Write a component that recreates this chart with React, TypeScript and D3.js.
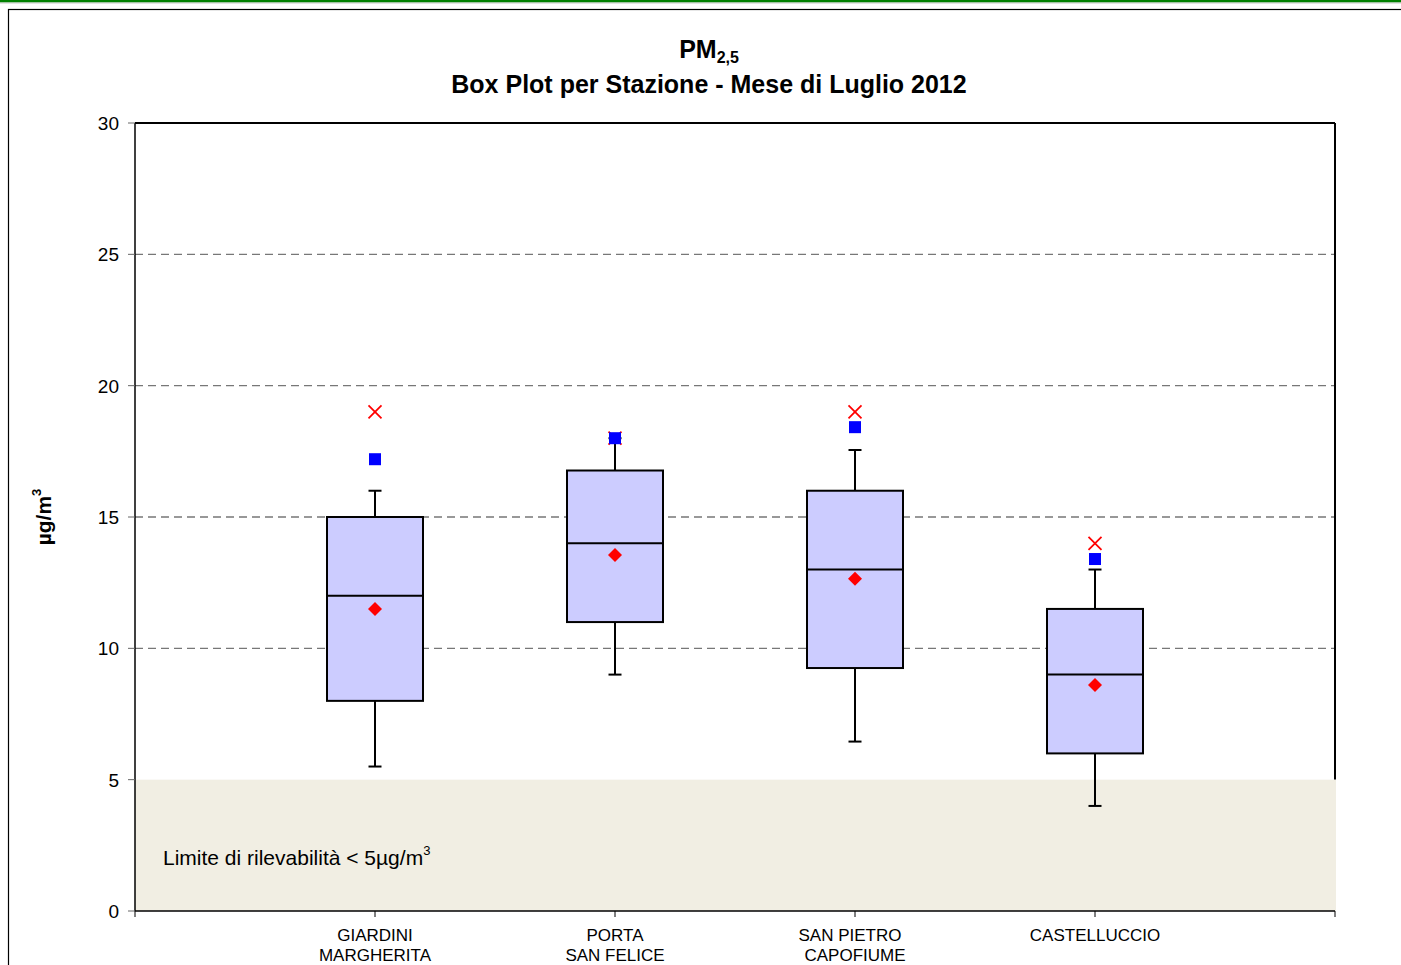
import React from "react";
import * as d3 from "d3";

const stations = [["GIARDINI", "MARGHERITA"], ["PORTA", "SAN FELICE"], ["SAN PIETRO", "CAPOFIUME"], ["CASTELLUCCIO"]];
const whiskerLow = [5.5, 9, 6.45, 4];
const q1 = [8, 11, 9.25, 6];
const median = [12, 14, 13, 9];
const q3 = [15, 16.77, 16, 11.5];
const whiskerHigh = [16, 18, 17.55, 13];
const mean = [11.5, 13.55, 12.65, 8.6];
const p95 = [17.2, 18, 18.42, 13.4];
const maxVal = [19, 18, 19, 14];
const yTicks = [0, 5, 10, 15, 20, 25, 30];
const gridValues = [10, 15, 20, 25];
const detectionLimit = 5;

const W = 1401, H = 965;
const L = 135, R = 1335, T = 123, B = 911;
const FONT = "'Liberation Sans', Arial, Helvetica, sans-serif";

export default function App() {
  const x = d3.scaleLinear().domain([0, 5]).range([L, R]);
  const y = d3.scaleLinear().domain([0, 30]).range([B, T]);
  const boxW = 96;
  const capW = 13;
  const sq = 12;
  const xs = 6.5;
  const dm = 7;
  const xTickVals = d3.range(0, 6);

  return (
    <svg width={W} height={H} style={{ position: "absolute", left: 0, top: 0, background: "#fff" }}>
      <rect x={0} y={0} width={W} height={2.5} fill="#008000" />
      <line x1={0} x2={W} y1={3} y2={3} stroke="#c8c8c8" strokeWidth={1} />
      <rect x={8.5} y={9.5} width={W + 20} height={H + 20} fill="none" stroke="#000" strokeWidth={1.2} />

      {/* title */}
      <text x={709} y={58} textAnchor="middle" fontFamily={FONT} fontWeight="bold" fontSize={25}>
        PM<tspan fontSize={16} dy={5}>2,5</tspan>
      </text>
      <text x={709} y={93} textAnchor="middle" fontFamily={FONT} fontWeight="bold" fontSize={25}>
        Box Plot per Stazione - Mese di Luglio 2012
      </text>

      {/* grid */}
      {gridValues.map((v) => (
        <line key={v} x1={L} x2={R} y1={y(v)} y2={y(v)} stroke="#777" strokeWidth={1.3} strokeDasharray="8,5" />
      ))}

      {/* plot border top/right */}
      <line x1={L} x2={R} y1={T} y2={T} stroke="#000" strokeWidth={2} />
      <line x1={R} x2={R} y1={T} y2={y(detectionLimit)} stroke="#000" strokeWidth={2} />

      {/* detection limit area */}
      <rect x={L} y={y(detectionLimit)} width={R - L + 1} height={y(0) - y(detectionLimit)} fill="#F1EEE3" />
      <text x={163} y={865} fontFamily={FONT} fontSize={21}>
        Limite di rilevabilità &lt; 5µg/m<tspan fontSize={13} dy={-10}>3</tspan>
      </text>

      {/* axes */}
      <line x1={L} x2={L} y1={T} y2={B} stroke="#000" strokeWidth={1.5} />
      <line x1={L} x2={R} y1={B} y2={B} stroke="#000" strokeWidth={1.5} />
      {yTicks.map((v) => (
        <g key={v}>
          <line x1={L - 7} x2={L} y1={y(v)} y2={y(v)} stroke="#666" strokeWidth={1} />
          <text x={119} y={y(v) + 7} textAnchor="end" fontFamily={FONT} fontSize={19}>{v}</text>
        </g>
      ))}
      {xTickVals.map((v) => (
        <line key={v} x1={x(v)} x2={x(v)} y1={B} y2={B + 6} stroke="#000" strokeWidth={1} />
      ))}
      {stations.map((lines, i) => (
        <text key={i} x={x(i + 1)} y={941} textAnchor="middle" fontFamily={FONT} fontSize={17}>
          {lines.map((l, j) => (
            <tspan key={j} x={x(i + 1) + (i === 2 && j === 0 ? -5 : 0)} dy={j === 0 ? 0 : 20}>{l}</tspan>
          ))}
        </text>
      ))}

      {/* y label */}
      <text transform={`translate(51,517) rotate(-90)`} textAnchor="middle" fontFamily={FONT} fontWeight="bold" fontSize={21}>
        µg/m<tspan fontSize={13} dy={-10}>3</tspan>
      </text>

      {/* boxes */}
      {stations.map((_, i) => {
        const cx = x(i + 1);
        return (
          <g key={i}>
            <line x1={cx} x2={cx} y1={y(whiskerLow[i])} y2={y(q1[i])} stroke="#000" strokeWidth={2} />
            <line x1={cx} x2={cx} y1={y(q3[i])} y2={y(whiskerHigh[i])} stroke="#000" strokeWidth={2} />
            <line x1={cx - capW / 2} x2={cx + capW / 2} y1={y(whiskerLow[i])} y2={y(whiskerLow[i])} stroke="#000" strokeWidth={2} />
            <line x1={cx - capW / 2} x2={cx + capW / 2} y1={y(whiskerHigh[i])} y2={y(whiskerHigh[i])} stroke="#000" strokeWidth={2} />
            <rect x={cx - boxW / 2} y={y(q3[i])} width={boxW} height={y(q1[i]) - y(q3[i])} fill="#CCCCFF" stroke="#000" strokeWidth={2} />
            <line x1={cx - boxW / 2} x2={cx + boxW / 2} y1={y(median[i])} y2={y(median[i])} stroke="#000" strokeWidth={2} />
            <path d={`M${cx},${y(mean[i]) - dm}L${cx + dm},${y(mean[i])}L${cx},${y(mean[i]) + dm}L${cx - dm},${y(mean[i])}Z`} fill="#FF0000" />
            <g stroke="#FF0000" strokeWidth={1.8}>
              <line x1={cx - xs} x2={cx + xs} y1={y(maxVal[i]) - xs} y2={y(maxVal[i]) + xs} />
              <line x1={cx - xs} x2={cx + xs} y1={y(maxVal[i]) + xs} y2={y(maxVal[i]) - xs} />
            </g>
            <rect x={cx - sq / 2} y={y(p95[i]) - sq / 2} width={sq} height={sq} fill="#0000FF" />
          </g>
        );
      })}
    </svg>
  );
}
